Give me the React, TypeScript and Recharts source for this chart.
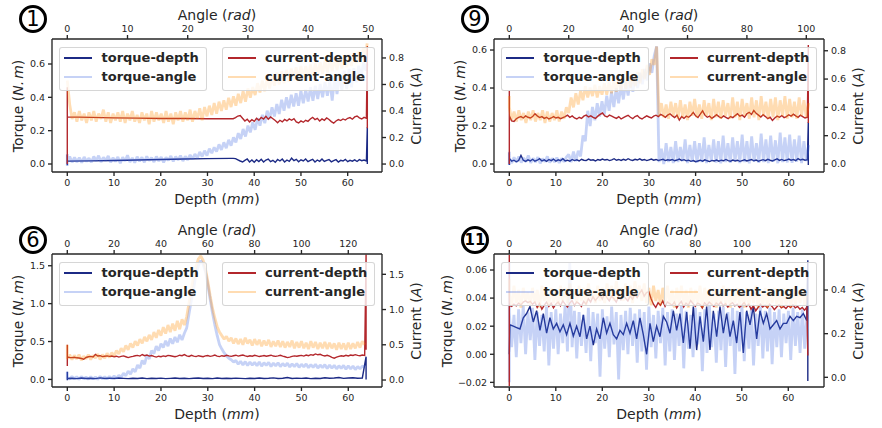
import React from 'react';
import { ComposedChart, Line, XAxis, YAxis } from 'recharts';

type Pt = { x: number; y: number };
const seq = (start: number, step: number, values: number[]): Pt[] =>
  values.map((y, i) => ({ x: +(start + i * step).toFixed(4), y }));
const at = (x: number, values: number[]): Pt[] => values.map((y) => ({ x, y }));

// ---------------- Panel 1 ----------------
const P1_TD_SMOOTH = [0.017, 0.019, 0.021, 0.024, 0.027, 0.03, 0.032, 0.034];
const P1_TD_NOISY = [
  0.034, 0.032, 0.025, 0.018, 0.012, 0.022, 0.03, 0.012, 0.024, 0.01,
  0.026, 0.015, 0.028, 0.012, 0.024, 0.03, 0.014, 0.022, 0.01, 0.027,
  0.018, 0.03, 0.012, 0.024, 0.016, 0.035, 0.02, 0.028, 0.013, 0.025,
  0.018, 0.03, 0.014, 0.022, 0.028, 0.012, 0.024, 0.016, 0.03, 0.015,
  0.022, 0.027, 0.013, 0.02, 0.026, 0.012, 0.022, 0.018, 0.028, 0.014,
  0.022, 0.017, 0.025, 0.015, 0.026, 0.02, 0.024, 0.018,
];
const P1_CD_SMOOTH = [0.356, 0.352, 0.348, 0.346, 0.344, 0.343, 0.342, 0.342];
const P1_CD_NOISY = [
  0.342, 0.35, 0.362, 0.366, 0.345, 0.325, 0.338, 0.318, 0.335, 0.322,
  0.345, 0.33, 0.352, 0.34, 0.36, 0.338, 0.355, 0.342, 0.328, 0.312,
  0.33, 0.318, 0.336, 0.325, 0.34, 0.33, 0.342, 0.318, 0.31, 0.325,
  0.315, 0.33, 0.322, 0.34, 0.352, 0.335, 0.345, 0.325, 0.34, 0.33,
  0.348, 0.336, 0.32, 0.308, 0.325, 0.335, 0.328, 0.34, 0.332, 0.345,
  0.35, 0.338, 0.355, 0.362, 0.348, 0.34, 0.352, 0.345,
];
const P1_TA = [
  0.02, 0.045, 0.01, 0.04, 0.012, 0.038, 0.008, 0.042, 0.015, 0.035,
  0.01, 0.045, 0.018, 0.05, 0.012, 0.04, 0.02, 0.048, 0.01, 0.038,
  0.015, 0.042, 0.005, 0.04, 0.018, 0.052, 0.012, 0.036, 0.008, 0.044,
  0.016, 0.04, 0.01, 0.046, 0.02, 0.038, 0.012, 0.045, 0.018, 0.042,
  0.01, 0.04, 0.022, 0.048, 0.015, 0.044, 0.024, 0.05, 0.018, 0.046,
  0.025, 0.055, 0.03, 0.06, 0.035, 0.072, 0.045, 0.08, 0.05, 0.092,
  0.065, 0.1, 0.075, 0.118, 0.085, 0.13, 0.095, 0.145, 0.11, 0.16,
  0.13, 0.185, 0.15, 0.21, 0.165, 0.23, 0.19, 0.25, 0.205, 0.275,
  0.23, 0.295, 0.245, 0.32, 0.27, 0.34, 0.285, 0.36, 0.3, 0.385,
  0.32, 0.4, 0.335, 0.415, 0.345, 0.425, 0.35, 0.44, 0.365, 0.445,
  0.375, 0.46, 0.38, 0.47, 0.39, 0.48, 0.4, 0.49, 0.41, 0.5,
  0.38, 0.52, 0.42, 0.54, 0.44, 0.56, 0.45, 0.57, 0.46, 0.575,
  0.49, 0.59, 0.52, 0.61, 0.56,
];
const P1_CA = [
  0.63, 0.45, 0.34, 0.39, 0.32, 0.4, 0.33, 0.38, 0.31, 0.39,
  0.33, 0.4, 0.32, 0.38, 0.34, 0.41, 0.32, 0.39, 0.31, 0.38,
  0.33, 0.39, 0.32, 0.4, 0.31, 0.38, 0.33, 0.4, 0.32, 0.37,
  0.31, 0.39, 0.33, 0.38, 0.3, 0.4, 0.32, 0.39, 0.33, 0.38,
  0.31, 0.4, 0.32, 0.38, 0.3, 0.39, 0.33, 0.4, 0.32, 0.39,
  0.33, 0.41, 0.32, 0.4, 0.34, 0.42, 0.33, 0.43, 0.36, 0.44,
  0.37, 0.46, 0.38, 0.47, 0.4, 0.48, 0.41, 0.5, 0.43, 0.51,
  0.44, 0.53, 0.46, 0.55, 0.47, 0.57, 0.5, 0.58, 0.52, 0.61,
  0.54, 0.63, 0.55, 0.65, 0.57, 0.67, 0.59, 0.69, 0.6, 0.7,
  0.61, 0.71, 0.62, 0.72, 0.63, 0.73, 0.64, 0.74, 0.65, 0.74,
  0.65, 0.75, 0.66, 0.76, 0.67, 0.77, 0.68, 0.78, 0.69, 0.79,
  0.7, 0.8, 0.71, 0.81, 0.72, 0.82, 0.73, 0.83, 0.74, 0.84,
  0.76, 0.85, 0.78, 0.88, 0.82,
];

// ---------------- Panel 9 ----------------
const P9_TD = [
  0.03, 0.015, 0.02, 0.012, 0.018, 0.045, 0.02, 0.014, 0.022, 0.016,
  0.025, 0.015, 0.02, 0.028, 0.016, 0.022, 0.014, 0.024, 0.018, 0.026,
  0.015, 0.022, 0.018, 0.028, 0.016, 0.02, 0.015, 0.024, 0.018, 0.022,
  0.016, 0.025, 0.02, 0.018, 0.026, 0.02, 0.022, 0.016, 0.024, 0.02,
  0.026, 0.021, 0.024, 0.018, 0.022, 0.028, 0.02, 0.024, 0.019, 0.025,
  0.02, 0.028, 0.022, 0.019, 0.025, 0.021, 0.027, 0.02, 0.024, 0.018,
  0.022, 0.026, 0.02, 0.024, 0.019, 0.022, 0.025, 0.018, 0.022, 0.02,
  0.024, 0.017, 0.021, 0.026, 0.019, 0.023, 0.017, 0.02, 0.014, 0.018,
  0.012, 0.016, 0.02, 0.015, 0.022, 0.017, 0.013, 0.019, 0.016, 0.021,
  0.015, 0.02, 0.017, 0.024, 0.018, 0.015, 0.021, 0.016, 0.02, 0.014,
  0.018, 0.022, 0.016, 0.02, 0.024, 0.017, 0.021, 0.015, 0.019, 0.023,
  0.018, 0.025, 0.02, 0.016, 0.022, 0.027, 0.019, 0.024, 0.018, 0.021,
  0.026, 0.02, 0.024, 0.018, 0.028, 0.021, 0.025, 0.02, 0.023,
];
const P9_CD = [
  0.34, 0.305, 0.3, 0.32, 0.33, 0.335, 0.325, 0.34, 0.33, 0.325,
  0.335, 0.355, 0.34, 0.328, 0.335, 0.322, 0.33, 0.318, 0.325, 0.335,
  0.325, 0.33, 0.32, 0.328, 0.335, 0.345, 0.33, 0.34, 0.325, 0.318,
  0.33, 0.322, 0.338, 0.345, 0.332, 0.34, 0.33, 0.322, 0.338, 0.35,
  0.36, 0.34, 0.332, 0.345, 0.338, 0.33, 0.322, 0.335, 0.318, 0.328,
  0.336, 0.344, 0.33, 0.32, 0.335, 0.342, 0.325, 0.318, 0.33, 0.34,
  0.332, 0.325, 0.338, 0.345, 0.335, 0.35, 0.342, 0.33, 0.345, 0.355,
  0.34, 0.328, 0.345, 0.31, 0.335, 0.322, 0.338, 0.33, 0.345, 0.365,
  0.34, 0.328, 0.352, 0.375, 0.345, 0.33, 0.338, 0.322, 0.335, 0.348,
  0.335, 0.325, 0.34, 0.33, 0.32, 0.335, 0.328, 0.342, 0.355, 0.338,
  0.345, 0.33, 0.355, 0.365, 0.35, 0.378, 0.358, 0.345, 0.332, 0.348,
  0.335, 0.32, 0.33, 0.308, 0.325, 0.338, 0.33, 0.342, 0.328, 0.335,
  0.348, 0.338, 0.352, 0.34, 0.33, 0.345, 0.335, 0.325, 0.33,
];
const P9_TA = [
  0.03, 0.005, 0.035, 0.01, 0.04, 0.008, 0.032, 0.012, 0.045, 0.006,
  0.03, 0.01, 0.036, 0.004, 0.028, 0.012, 0.04, 0.008, 0.03, 0.01,
  0.034, 0.006, 0.03, 0.012, 0.036, 0.05, 0.01, 0.065, 0.015, 0.07,
  0.04, 0.15, 0.12, 0.28, 0.2, 0.3, 0.23, 0.32, 0.25, 0.33,
  0.26, 0.36, 0.28, 0.38, 0.3, 0.4, 0.32, 0.42, 0.34, 0.43,
  0.36, 0.45, 0.38, 0.46, 0.4, 0.48, 0.42, 0.5, 0.44, 0.53,
  0.48, 0.57, 0.62, 0.01, 0.08, 0.0, 0.11, 0.01, 0.09, 0.005,
  0.12, 0.01, 0.09, 0.015, 0.13, 0.005, 0.1, 0.012, 0.12, 0.008,
  0.11, 0.01, 0.14, 0.005, 0.1, 0.015, 0.13, 0.008, 0.12, 0.004,
  0.15, 0.01, 0.11, 0.006, 0.14, 0.015, 0.12, 0.005, 0.155, 0.01,
  0.12, 0.004, 0.145, 0.012, 0.11, 0.006, 0.16, 0.01, 0.13, 0.005,
  0.15, 0.012, 0.125, 0.004, 0.165, 0.01, 0.14, 0.008, 0.155, 0.006,
  0.13, 0.012, 0.15, 0.005, 0.12, 0.015, 0.1,
];
const P9_CA = [
  0.4, 0.31, 0.37, 0.3, 0.38, 0.31, 0.36, 0.29, 0.37, 0.31,
  0.38, 0.3, 0.36, 0.31, 0.38, 0.29, 0.37, 0.3, 0.36, 0.31,
  0.38, 0.3, 0.37, 0.32, 0.4, 0.36, 0.47, 0.4, 0.5, 0.42,
  0.52, 0.45, 0.55, 0.47, 0.54, 0.48, 0.56, 0.47, 0.55, 0.49,
  0.57, 0.49, 0.58, 0.5, 0.59, 0.51, 0.6, 0.52, 0.61, 0.53,
  0.62, 0.54, 0.63, 0.55, 0.65, 0.57, 0.67, 0.6, 0.7, 0.63,
  0.74, 0.7, 0.83, 0.34, 0.43, 0.33, 0.42, 0.32, 0.44, 0.34,
  0.43, 0.32, 0.45, 0.33, 0.42, 0.31, 0.44, 0.34, 0.46, 0.33,
  0.42, 0.32, 0.45, 0.34, 0.43, 0.31, 0.46, 0.33, 0.44, 0.32,
  0.45, 0.34, 0.43, 0.32, 0.47, 0.33, 0.44, 0.31, 0.46, 0.34,
  0.43, 0.32, 0.47, 0.33, 0.45, 0.31, 0.48, 0.34, 0.44, 0.32,
  0.46, 0.33, 0.47, 0.31, 0.45, 0.34, 0.48, 0.32, 0.46, 0.33,
  0.44, 0.32, 0.47, 0.34, 0.45, 0.33, 0.43,
];

// ---------------- Panel 6 ----------------
const P6_TD = [
  0.012, 0.015, 0.01, 0.018, 0.012, 0.016, 0.011, 0.02, 0.013, 0.017,
  0.012, 0.018, 0.014, 0.01, 0.016, 0.013, 0.019, 0.011, 0.015, 0.012,
  0.017, 0.011, 0.014, 0.018, 0.012, 0.016, 0.01, 0.015, 0.019, 0.013,
  0.016, 0.011, 0.018, 0.013, 0.015, 0.012, 0.017, 0.014, 0.011, 0.016,
  0.013, 0.018, 0.012, 0.015, 0.02, 0.013, 0.016, 0.025, 0.012, 0.017,
  0.014, 0.018, 0.011, 0.016, 0.013, 0.022, 0.015, 0.018, 0.026, 0.014,
  0.018, 0.022, 0.016, 0.019,
];
const P6_CD = [
  0.325, 0.32, 0.318, 0.322, 0.315, 0.312, 0.305, 0.295, 0.32, 0.33,
  0.335, 0.328, 0.362, 0.34, 0.345, 0.332, 0.338, 0.342, 0.335, 0.34,
  0.33, 0.338, 0.325, 0.335, 0.342, 0.33, 0.318, 0.328, 0.335, 0.345,
  0.35, 0.34, 0.362, 0.345, 0.355, 0.34, 0.348, 0.335, 0.325, 0.338,
  0.33, 0.342, 0.335, 0.35, 0.345, 0.338, 0.33, 0.34, 0.352, 0.345,
  0.36, 0.342, 0.335, 0.35, 0.34, 0.332, 0.345, 0.338, 0.33, 0.342,
  0.348, 0.336, 0.342, 0.355, 0.34, 0.332, 0.345, 0.338, 0.35, 0.342,
  0.336, 0.345, 0.352, 0.34, 0.348, 0.355, 0.342, 0.335, 0.345, 0.338,
  0.35, 0.342, 0.333, 0.34, 0.348, 0.338, 0.345, 0.352, 0.34, 0.335,
  0.342, 0.35, 0.338, 0.33, 0.318, 0.325, 0.335, 0.342, 0.338, 0.345,
  0.35, 0.34, 0.355, 0.345, 0.36, 0.352, 0.37, 0.358, 0.365, 0.35,
  0.342, 0.35, 0.338, 0.32, 0.31, 0.325, 0.335, 0.345, 0.338, 0.35,
  0.342, 0.355, 0.348, 0.36, 0.35, 0.345, 0.355, 0.348,
];
const P6_TA = [
  0.03, 0.005, 0.04, 0.01, 0.035, 0.002, 0.038, 0.008, 0.03, 0.004,
  0.036, 0.006, 0.032, 0.002, 0.04, 0.008, 0.035, 0.005, 0.038, 0.01,
  0.045, 0.015, 0.055, 0.03, 0.08, 0.05, 0.11, 0.07, 0.14, 0.1,
  0.19, 0.15, 0.25, 0.2, 0.32, 0.27, 0.38, 0.34, 0.44, 0.38,
  0.47, 0.42, 0.51, 0.44, 0.54, 0.47, 0.56, 0.49, 0.59, 0.52,
  0.61, 0.68, 0.87, 1.05, 1.2, 1.4, 1.5, 1.57, 1.52, 1.42,
  1.25, 1.06, 0.88, 0.72, 0.58, 0.46, 0.4, 0.35, 0.31, 0.28,
  0.26, 0.23, 0.25, 0.2, 0.24, 0.19, 0.235, 0.185, 0.23, 0.19,
  0.225, 0.18, 0.23, 0.175, 0.22, 0.185, 0.225, 0.17, 0.215, 0.18,
  0.22, 0.17, 0.21, 0.175, 0.215, 0.165, 0.205, 0.17, 0.21, 0.16,
  0.2, 0.165, 0.205, 0.155, 0.195, 0.16, 0.2, 0.15, 0.19, 0.155,
  0.195, 0.145, 0.19, 0.15, 0.185, 0.14, 0.18, 0.145, 0.185, 0.135,
  0.18, 0.14, 0.175, 0.13, 0.17, 0.14, 0.175, 0.165,
];
const P6_CA = [
  0.3, 0.36, 0.29, 0.35, 0.3, 0.36, 0.28, 0.34, 0.3, 0.36,
  0.29, 0.35, 0.31, 0.37, 0.29, 0.36, 0.31, 0.38, 0.32, 0.39,
  0.34, 0.42, 0.37, 0.45, 0.4, 0.49, 0.43, 0.52, 0.46, 0.55,
  0.49, 0.58, 0.52, 0.61, 0.55, 0.64, 0.57, 0.68, 0.6, 0.71,
  0.63, 0.75, 0.66, 0.78, 0.68, 0.8, 0.7, 0.84, 0.72, 0.86,
  0.78, 0.9, 1.1, 1.3, 1.48, 1.62, 1.72, 1.76, 1.7, 1.58,
  1.4, 1.2, 1.02, 0.88, 0.76, 0.68, 0.63, 0.58, 0.62, 0.55,
  0.6, 0.52, 0.59, 0.51, 0.58, 0.5, 0.6, 0.52, 0.57, 0.49,
  0.58, 0.5, 0.57, 0.48, 0.56, 0.49, 0.57, 0.47, 0.55, 0.48,
  0.56, 0.47, 0.55, 0.46, 0.54, 0.47, 0.56, 0.45, 0.54, 0.46,
  0.55, 0.45, 0.53, 0.44, 0.55, 0.46, 0.54, 0.44, 0.53, 0.45,
  0.54, 0.44, 0.53, 0.45, 0.52, 0.43, 0.53, 0.44, 0.52, 0.43,
  0.53, 0.44, 0.52, 0.45, 0.54, 0.46, 0.55, 0.5,
];

// ---------------- Panel 11 ----------------
const P11_TD = [
  0.021, 0.02, 0.019, 0.018, 0.026, 0.029, 0.034, 0.023, 0.031, 0.017,
  0.029, 0.015, 0.026, 0.018, 0.022, 0.016, 0.021, 0.014, 0.022, 0.013,
  0.02, 0.0125, 0.028, 0.011, 0.02, 0.0066, 0.018, 0.011, 0.026, 0.015,
  0.022, 0.014, 0.011, 0.017, 0.014, 0.022, 0.015, 0.024, 0.011, 0.026,
  0.014, 0.0, 0.022, 0.009, 0.02, 0.0125, 0.027, 0.023, 0.015, 0.031,
  0.017, 0.029, 0.008, 0.03, 0.004, 0.034, 0.003, 0.027, 0.009, 0.034,
  0.003, 0.031, 0.0125, 0.034, 0.015, 0.029, 0.0125, 0.024, 0.008, 0.03,
  0.001, 0.031, 0.021, 0.034, 0.011, 0.031, 0.022, 0.029, 0.018, 0.021,
  0.024, 0.018, 0.022, 0.022, 0.027, 0.024, 0.027, 0.026, 0.029, 0.024,
];
const P11_CD = [
  0.33, 0.325, 0.335, 0.328, 0.34, 0.332, 0.345, 0.35, 0.342, 0.348,
  0.335, 0.345, 0.32, 0.338, 0.312, 0.33, 0.345, 0.325, 0.34, 0.318,
  0.335, 0.345, 0.328, 0.35, 0.335, 0.322, 0.34, 0.352, 0.33, 0.345,
  0.338, 0.325, 0.348, 0.335, 0.36, 0.345, 0.37, 0.352, 0.365, 0.378,
  0.358, 0.385, 0.365, 0.35, 0.372, 0.36, 0.345, 0.368, 0.355, 0.375,
  0.362, 0.35, 0.372, 0.358, 0.38, 0.365, 0.385, 0.4, 0.372, 0.388,
  0.392, 0.36, 0.335, 0.32, 0.342, 0.33, 0.35, 0.325, 0.345, 0.338,
  0.33, 0.345, 0.318, 0.335, 0.348, 0.322, 0.34, 0.33, 0.352, 0.338,
  0.325, 0.34, 0.335, 0.318, 0.342, 0.33, 0.345, 0.335, 0.325, 0.34,
  0.332, 0.345, 0.328, 0.338, 0.322, 0.335, 0.342, 0.328, 0.335, 0.32,
  0.33, 0.342, 0.325, 0.335, 0.312, 0.328, 0.305, 0.32, 0.335, 0.322,
  0.33, 0.318, 0.335, 0.325, 0.31, 0.322, 0.332, 0.318, 0.325, 0.315,
  0.328, 0.32, 0.332, 0.318, 0.325, 0.312, 0.32, 0.308, 0.322,
];
const P11_TA = [
  0.03, 0.005, 0.028, -0.002, 0.032, 0.008, 0.035, 0.0, 0.03, 0.01,
  0.033, -0.004, 0.03, 0.006, 0.028, 0.002, 0.034, -0.008, 0.03, 0.004,
  0.032, 0.0, 0.029, 0.008, 0.035, 0.002, 0.065, 0.005, 0.031, -0.003,
  0.03, 0.006, 0.028, 0.001, 0.033, -0.005, 0.03, 0.008, 0.029, -0.016,
  0.032, 0.004, 0.027, -0.002, 0.034, 0.007, 0.03, -0.018, 0.028, 0.003,
  0.031, 0.0, 0.033, 0.006, 0.029, -0.006, 0.032, 0.002, 0.03, -0.011,
  0.034, 0.005, 0.028, -0.003, 0.031, 0.008, 0.033, -0.008, 0.03, 0.002,
  0.032, -0.004, 0.029, 0.006, 0.035, -0.01, 0.031, 0.004, 0.028, -0.002,
  0.033, 0.007, 0.03, -0.012, 0.032, 0.001, 0.036, 0.005, 0.029, -0.006,
  0.031, 0.003, 0.034, -0.009, 0.03, 0.006, 0.033, -0.014, 0.031, 0.002,
  0.035, -0.005, 0.03, 0.004, 0.032, -0.008, 0.029, 0.006, 0.034, -0.003,
  0.031, 0.002, 0.033, -0.007, 0.03, 0.005, 0.032, -0.002, 0.029, 0.008,
  0.031, -0.004, 0.033, 0.006, 0.03, 0.001, 0.032, 0.004, 0.028,
];
const P11_CA = [
  0.38, 0.33, 0.42, 0.34, 0.4, 0.32, 0.41, 0.35, 0.39, 0.33,
  0.41, 0.34, 0.4, 0.32, 0.42, 0.35, 0.39, 0.33, 0.41, 0.34,
  0.4, 0.33, 0.42, 0.35, 0.41, 0.34, 0.43, 0.36, 0.4, 0.34,
  0.42, 0.35, 0.41, 0.33, 0.43, 0.36, 0.4, 0.34, 0.42, 0.35,
  0.41, 0.34, 0.43, 0.36, 0.42, 0.35, 0.44, 0.37, 0.41, 0.35,
  0.43, 0.36, 0.42, 0.34, 0.44, 0.37, 0.42, 0.35, 0.43, 0.34,
  0.41, 0.33, 0.42, 0.35, 0.4, 0.33, 0.41, 0.34, 0.42, 0.33,
  0.4, 0.32, 0.41, 0.34, 0.42, 0.33, 0.4, 0.32, 0.41, 0.34,
  0.4, 0.33, 0.42, 0.32, 0.41, 0.34, 0.4, 0.33, 0.41, 0.32,
  0.4, 0.34, 0.42, 0.33, 0.41, 0.32, 0.4, 0.34, 0.41, 0.33,
  0.4, 0.32, 0.41, 0.33, 0.4, 0.34, 0.42, 0.32, 0.4, 0.33,
  0.41, 0.32, 0.4, 0.34, 0.41, 0.33, 0.4, 0.32, 0.41, 0.33,
  0.4, 0.32, 0.41, 0.33, 0.4, 0.34, 0.41, 0.33, 0.38,
];

// ---------------- tick labels ----------------
const DEPTH_TICKS = [0, 10, 20, 30, 40, 50, 60];
const P1_ANGLE_TICKS = [0, 10, 20, 30, 40, 50];
const P9_ANGLE_TICKS = [0, 20, 40, 60, 80, 100];
const P6_ANGLE_TICKS = [0, 20, 40, 60, 80, 100, 120];
const P1_TORQUE_TICKS = [0, 0.2, 0.4, 0.6];
const P1_CURRENT_TICKS = [0, 0.2, 0.4, 0.6, 0.8];
const P6_TORQUE_TICKS = [0, 0.5, 1.0, 1.5];
const P6_CURRENT_TICKS = [0, 0.5, 1.0, 1.5];
const P11_TORQUE_TICKS = [-0.02, 0, 0.02, 0.04, 0.06];
const P11_CURRENT_TICKS = [0, 0.2, 0.4];

const NAVY = '#1c2a85';
const RED = '#b3272c';
const LBLUE = 'royalblue';
const LORANGE = 'darkorange';
const ALPHA = 0.3;
const BAND_W = 2.8;
const INK = '#262626';
const FONT = '"DejaVu Sans", sans-serif';

const FW = 330;
const FH = 133;
const AX = 55;
const AY = 36;

const fmt1 = (v: number) => v.toFixed(1);
const fmtInt = (v: number) => String(v);
const fmt2 = (v: number) => (v < 0 ? '\u2212' : '') + Math.abs(v).toFixed(2);

interface PanelProps {
  left: number;
  top: number;
  depthDomain: [number, number];
  angleDomain: [number, number];
  torqueDomain: [number, number];
  currentDomain: [number, number];
  angleTicks: number[];
  torqueTicks: number[];
  currentTicks: number[];
  torqueFmt: (v: number) => string;
  td: Pt[];
  ta: Pt[];
  cd: Pt[];
  ca: Pt[];
  badge: string;
  badgeSize: number;
  torqueLabelDx: number;
}

const tickStyle = { fontSize: 9.5, fill: INK, fontFamily: FONT };
const lineStyle = { stroke: INK, strokeWidth: 1.35 };

const LegendBox = ({ x, y, w, items }: { x: number; y: number; w: number; items: { label: string; color: string; opacity: number }[] }) => (
  <div
    style={{
      position: 'absolute',
      left: x,
      top: y,
      width: w,
      height: 44,
      background: 'rgba(255,255,255,0.8)',
      border: '1px solid rgba(204,204,204,0.8)',
      borderRadius: 3,
      boxSizing: 'border-box',
    }}
  >
    {items.map((it, i) => (
      <div key={i} style={{ position: 'absolute', left: 0, top: i === 0 ? 3.5 : 22, height: 14, width: '100%' }}>
        <div style={{ position: 'absolute', left: 4.5, top: 6, width: 28, height: it.opacity < 1 ? 2 : 1.6, background: it.color, opacity: it.opacity }} />
        <span
          style={{
            position: 'absolute',
            left: 42,
            top: 0,
            fontSize: 13,
            fontWeight: 'bold',
            lineHeight: '14px',
            color: INK,
            whiteSpace: 'nowrap',
            fontFamily: FONT,
          }}
        >
          {it.label}
        </span>
      </div>
    ))}
  </div>
);

const Panel = (p: PanelProps) => {
  const cx = p.left + FW / 2;
  const cy = p.top + FH / 2;
  const labelBase: React.CSSProperties = {
    position: 'absolute',
    fontSize: 14,
    lineHeight: '14px',
    color: INK,
    whiteSpace: 'nowrap',
    fontFamily: FONT,
  };
  return (
    <>
      <div style={{ position: 'absolute', left: p.left - AX, top: p.top - AY }}>
        <ComposedChart width={FW + 2 * AX} height={FH + 2 * AY} margin={{ top: 0, right: 0, bottom: 0, left: 0 }}>
          <XAxis
            xAxisId="depth"
            orientation="bottom"
            type="number"
            dataKey="x"
            domain={p.depthDomain}
            ticks={DEPTH_TICKS}
            tickFormatter={fmtInt}
            allowDataOverflow
            interval={0}
            height={AY}
            tickSize={4}
            tickMargin={3}
            tick={tickStyle}
            axisLine={lineStyle}
            tickLine={lineStyle}
          />
          <XAxis
            xAxisId="angle"
            orientation="top"
            type="number"
            dataKey="x"
            domain={p.angleDomain}
            ticks={p.angleTicks}
            tickFormatter={fmtInt}
            allowDataOverflow
            interval={0}
            height={AY}
            tickSize={4}
            tickMargin={3}
            tick={tickStyle}
            axisLine={lineStyle}
            tickLine={lineStyle}
          />
          <YAxis
            yAxisId="torque"
            orientation="left"
            type="number"
            domain={p.torqueDomain}
            ticks={p.torqueTicks}
            tickFormatter={p.torqueFmt}
            allowDataOverflow
            interval={0}
            width={AX}
            tickSize={4}
            tickMargin={3}
            tick={tickStyle}
            axisLine={lineStyle}
            tickLine={lineStyle}
          />
          <YAxis
            yAxisId="current"
            orientation="right"
            type="number"
            domain={p.currentDomain}
            ticks={p.currentTicks}
            tickFormatter={fmt1}
            allowDataOverflow
            interval={0}
            width={AX}
            tickSize={4}
            tickMargin={3}
            tick={tickStyle}
            axisLine={lineStyle}
            tickLine={lineStyle}
          />
          <Line xAxisId="depth" yAxisId="torque" data={p.td} dataKey="y" type="linear" stroke={NAVY} strokeWidth={1.4} dot={false} activeDot={false} isAnimationActive={false} />
          <Line xAxisId="angle" yAxisId="torque" data={p.ta} dataKey="y" type="linear" stroke={LBLUE} strokeOpacity={ALPHA} strokeWidth={BAND_W} strokeLinejoin="bevel" dot={false} activeDot={false} isAnimationActive={false} />
          <Line xAxisId="depth" yAxisId="current" data={p.cd} dataKey="y" type="linear" stroke={RED} strokeWidth={1.4} dot={false} activeDot={false} isAnimationActive={false} />
          <Line xAxisId="angle" yAxisId="current" data={p.ca} dataKey="y" type="linear" stroke={LORANGE} strokeOpacity={ALPHA} strokeWidth={BAND_W} strokeLinejoin="bevel" dot={false} activeDot={false} isAnimationActive={false} />
        </ComposedChart>
      </div>
      <LegendBox
        x={p.left + 6.5}
        y={p.top + 7.5}
        w={148}
        items={[
          { label: 'torque-depth', color: NAVY, opacity: 1 },
          { label: 'torque-angle', color: LBLUE, opacity: ALPHA },
        ]}
      />
      <LegendBox
        x={p.left + FW - 7 - 153}
        y={p.top + 7.5}
        w={153}
        items={[
          { label: 'current-depth', color: RED, opacity: 1 },
          { label: 'current-angle', color: LORANGE, opacity: ALPHA },
        ]}
      />
      <div style={{ ...labelBase, left: cx, top: p.top - 24, transform: 'translate(-50%, -50%)' }}>
        Angle (<i>rad</i>)
      </div>
      <div style={{ ...labelBase, left: cx, top: p.top + FH + 27, transform: 'translate(-50%, -50%)' }}>
        Depth (<i>mm</i>)
      </div>
      <div style={{ ...labelBase, left: p.left - p.torqueLabelDx, top: cy, transform: 'translate(-50%, -50%) rotate(-90deg)' }}>
        Torque (<i>N.</i>
        <i style={{ marginLeft: 2 }}>m</i>)
      </div>
      <div style={{ ...labelBase, left: p.left + FW + 33.5, top: cy, transform: 'translate(-50%, -50%) rotate(-90deg)' }}>
        Current (<i>A</i>)
      </div>
      <div
        style={{
          position: 'absolute',
          left: p.left - 19,
          top: p.top - (p.top < 100 ? 20 : 14),
          width: 28,
          height: 28,
          transform: 'translate(-50%, -50%)',
          border: '3px solid #000',
          borderRadius: '50%',
          boxSizing: 'border-box',
          display: 'flex',
          alignItems: 'center',
          justifyContent: 'center',
          fontSize: p.badgeSize,
          fontWeight: p.badge.length > 1 ? 'bold' : 'normal',
          color: '#000',
          fontFamily: FONT,
          lineHeight: 1,
        }}
      >
        {p.badge}
      </div>
    </>
  );
};

export default function App() {
  return (
    <div style={{ position: 'absolute', left: 0, top: 0, width: 882, height: 428, background: '#fff', fontFamily: FONT, overflow: 'hidden' }}>
      <Panel
        left={52}
        top={39}
        depthDomain={[-3.27, 67.34]}
        angleDomain={[-2.54, 52.27]}
        torqueDomain={[-0.048, 0.75]}
        currentDomain={[-0.06, 0.943]}
        angleTicks={P1_ANGLE_TICKS}
        torqueTicks={P1_TORQUE_TICKS}
        currentTicks={P1_CURRENT_TICKS}
        torqueFmt={fmt1}
        td={[...at(0, [0.0, 0.055, -0.008]), ...seq(0, 5, P1_TD_SMOOTH), ...seq(35.5, 0.5, P1_TD_NOISY), ...at(64.2, [0.22, 0.0])]}
        ta={[...at(0, [-0.01, 0.06]), ...seq(0, 0.4, P1_TA), ...at(49.8, [0.6])]}
        cd={[...at(0, [0.0, 0.58]), ...seq(0, 5, P1_CD_SMOOTH), ...seq(35.5, 0.5, P1_CD_NOISY), ...at(64.2, [0.89, 0.27])]}
        ca={[...seq(0, 0.4, P1_CA), ...at(49.8, [0.91])]}
        badge="1"
        badgeSize={21}
        torqueLabelDx={34}
      />
      <Panel
        left={494}
        top={39}
        depthDomain={[-3.29, 67.57]}
        angleDomain={[-5.16, 105.96]}
        torqueDomain={[-0.042, 0.658]}
        currentDomain={[-0.0565, 0.883]}
        angleTicks={P9_ANGLE_TICKS}
        torqueTicks={P1_TORQUE_TICKS}
        currentTicks={P1_CURRENT_TICKS}
        torqueFmt={fmt1}
        td={[...at(0, [-0.005, 0.06]), ...seq(0, 0.5, P9_TD), ...at(64.2, [0.22, -0.005])]}
        ta={[...at(0, [-0.005, 0.065]), ...seq(0, 0.8, P9_TA)]}
        cd={[...at(0, [0.0, 0.52]), ...seq(0, 0.5, P9_CD), ...at(64.2, [0.84, 0.29])]}
        ca={[...at(0, [0.48]), ...seq(0, 0.8, P9_CA)]}
        badge="9"
        badgeSize={21}
        torqueLabelDx={34}
      />
      <Panel
        left={52}
        top={254}
        depthDomain={[-3.27, 67.2]}
        angleDomain={[-6.53, 134.4]}
        torqueDomain={[-0.1, 1.655]}
        currentDomain={[-0.099, 1.788]}
        angleTicks={P6_ANGLE_TICKS}
        torqueTicks={P6_TORQUE_TICKS}
        currentTicks={P6_CURRENT_TICKS}
        torqueFmt={fmt1}
        td={[...at(0, [0.0, 0.1, -0.01]), ...seq(0, 1, P6_TD), ...at(63.8, [0.3, 0.0])]}
        ta={[...at(0, [0.0, 0.1]), ...seq(0, 1, P6_TA)]}
        cd={[...at(0, [0.5, 0.2]), ...seq(0, 0.5, P6_CD), ...at(63.8, [1.78, 0.43])]}
        ca={[...at(0, [0.5]), ...seq(0, 1, P6_CA)]}
        badge="6"
        badgeSize={21}
        torqueLabelDx={34}
      />
      <Panel
        left={494}
        top={254}
        depthDomain={[-3.29, 67.68]}
        angleDomain={[-6.58, 135.3]}
        torqueDomain={[-0.0233, 0.0714]}
        currentDomain={[-0.0444, 0.565]}
        angleTicks={P6_ANGLE_TICKS}
        torqueTicks={P11_TORQUE_TICKS}
        currentTicks={P11_CURRENT_TICKS}
        torqueFmt={fmt2}
        td={[...at(0, [0.0]), ...seq(0.14, 0.717, P11_TD), ...at(64.2, [0.067, -0.019])]}
        ta={[...at(0, [-0.02, 0.065]), ...seq(0, 1, P11_TA)]}
        cd={[...at(0, [0.56, -0.04]), ...seq(0, 0.5, P11_CD), ...at(64.2, [0.1])]}
        ca={[...at(0, [0.45]), ...seq(0, 1, P11_CA)]}
        badge="11"
        badgeSize={15}
        torqueLabelDx={47}
      />
    </div>
  );
}
